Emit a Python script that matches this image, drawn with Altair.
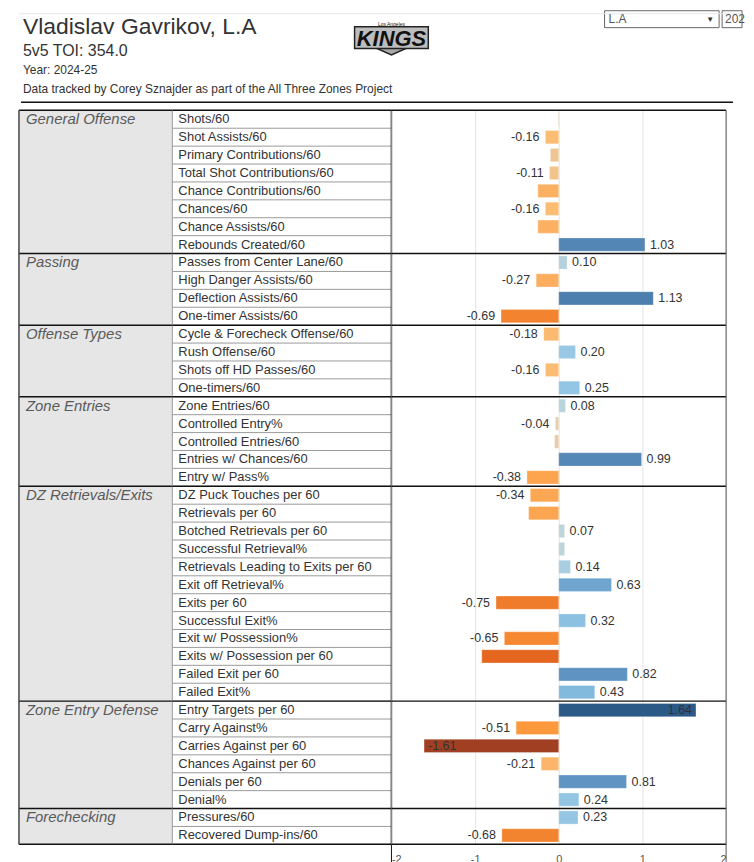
import altair as alt
import pandas as pd

# ---------------- data ----------------
groups = ["General Offense", "Passing", "Offense Types", "Zone Entries",
          "DZ Retrievals/Exits", "Zone Entry Defense", "Forechecking"]
group_sizes = [8, 4, 4, 5, 12, 6, 2]

metrics = [
    "Shots/60", "Shot Assists/60", "Primary Contributions/60", "Total Shot Contributions/60",
    "Chance Contributions/60", "Chances/60", "Chance Assists/60", "Rebounds Created/60",
    "Passes from Center Lane/60", "High Danger Assists/60", "Deflection Assists/60", "One-timer Assists/60",
    "Cycle & Forecheck Offense/60", "Rush Offense/60", "Shots off HD Passes/60", "One-timers/60",
    "Zone Entries/60", "Controlled Entry%", "Controlled Entries/60", "Entries w/ Chances/60", "Entry w/ Pass%",
    "DZ Puck Touches per 60", "Retrievals per 60", "Botched Retrievals per 60", "Successful Retrieval%",
    "Retrievals Leading to Exits per 60", "Exit off Retrieval%", "Exits per 60", "Successful Exit%",
    "Exit w/ Possession%", "Exits w/ Possession per 60", "Failed Exit per 60", "Failed Exit%",
    "Entry Targets per 60", "Carry Against%", "Carries Against per 60", "Chances Against per 60",
    "Denials per 60", "Denial%",
    "Pressures/60", "Recovered Dump-ins/60",
]
values = [
    -0.01, -0.16, -0.10, -0.11, -0.25, -0.16, -0.25, 1.03,
    0.10, -0.27, 1.13, -0.69,
    -0.18, 0.20, -0.16, 0.25,
    0.08, -0.04, -0.05, 0.99, -0.38,
    -0.34, -0.36, 0.07, 0.07, 0.14, 0.63, -0.75, 0.32, -0.65, -0.92, 0.82, 0.43,
    1.64, -0.51, -1.61, -0.21, 0.81, 0.24,
    0.23, -0.68,
]
label_shown = [
    False, True, False, True, False, True, False, True,
    True, True, True, True,
    True, True, True, True,
    True, True, False, True, True,
    True, False, True, False, True, True, True, True, True, False, True, True,
    True, True, True, True, True, True,
    True, True,
]
axis_ticks = [-2, -1, 0, 1, 2]

# ---------------- tables ----------------
group_of_row = [g for g, n in zip(groups, group_sizes) for _ in range(n)]
rows = pd.DataFrame({
    "idx": list(range(len(metrics))),
    "group": group_of_row,
    "metric": metrics,
    "value": values,
    "show": label_shown,
})
starts = [sum(group_sizes[:i]) for i in range(len(groups))]
grp = pd.DataFrame({"group": groups, "start": starts,
                    "end": [s + n for s, n in zip(starts, group_sizes)]})
bounds = pd.DataFrame({"b": starts + [sum(group_sizes)]})
row_lines = pd.DataFrame({"b": list(range(sum(group_sizes) + 1))})
one = pd.DataFrame({"k": [0]})

FONT = "Liberation Sans"
N = sum(group_sizes)
H = 737
W_GROUP, W_METRIC, W_BAR = 154, 220, 336
W_HEAD = 726

yscale = alt.Scale(domain=[0, N], reverse=True, nice=False, zero=False)
xscale = alt.Scale(domain=[-2, 2], nice=False)

color_scale = alt.Scale(
    domain=[-1.64, -0.92, -0.7, -0.5, -0.3, -0.16, 0, 0.08, 0.2, 0.4, 0.63, 0.82, 1.1, 1.64],
    range=["#9e3d22", "#e4661f", "#f2822d", "#fc9a3e", "#fcaa58", "#fbbd73", "#dcd3c5",
           "#b9d4dc", "#98c8e5", "#85bde0", "#6fa5cf", "#5f93c2", "#4f81b0", "#2b5a87"],
    interpolate="rgb",
)

# ---------------- header ----------------
def htext(txt, x, y, size, color="#333333", **kw):
    return alt.Chart(one).mark_text(text=txt, align="left", baseline="alphabetic",
                                    fontSize=size, color=color, font=FONT, **kw
                                    ).encode(x=alt.value(x), y=alt.value(y))

header = alt.layer(
    alt.Chart(one).mark_rect(fill="white", stroke="#666666", strokeWidth=1).encode(
        x=alt.value(588), x2=alt.value(703), y=alt.value(1), y2=alt.value(18)),
    alt.Chart(one).mark_rect(fill="white", stroke="#666666", strokeWidth=1).encode(
        x=alt.value(706), x2=alt.value(W_HEAD), y=alt.value(1), y2=alt.value(18)),
    alt.Chart(one).mark_rule(color="#e6e6e6", strokeWidth=1).encode(
        x=alt.value(0), x2=alt.value(W_HEAD), y=alt.value(4)),
    htext("L.A", 592, 13, 12, color="#555555"),
    htext("▼", 690, 12, 8, color="#333333"),
    htext("202", 709, 13, 12, color="#555555"),
    htext("Vladislav Gavrikov, L.A", 4, 24, 23),
    htext("5v5 TOI: 354.0", 4, 46, 16),
    htext("Year: 2024-25", 4, 65, 12),
    htext("Data tracked by Corey Sznajder as part of the All Three Zones Project", 4, 84, 12),
    alt.Chart(one).mark_rule(color="#111111", strokeWidth=1.5).encode(
        x=alt.value(2), x2=alt.value(717), y=alt.value(93)),
    # logo approximation (shield)
    alt.Chart(one).mark_point(shape="M-1,-0.5L1,-0.5L1,0.05L0,0.5L-1,0.05Z", filled=True,
                              size=1444, color="#a8a8a8", stroke="#222222", strokeWidth=1.5,
                              opacity=1).encode(x=alt.value(374), y=alt.value(36)),
    alt.Chart(one).mark_rect(fill="#bdbdbd", stroke="#222222", strokeWidth=1.5).encode(
        x=alt.value(337), x2=alt.value(411), y=alt.value(17), y2=alt.value(39)),
    alt.Chart(one).mark_text(text="Los Angeles", fontSize=5, color="#222222", font=FONT).encode(
        x=alt.value(374), y=alt.value(14)),
    alt.Chart(one).mark_text(text="KINGS", fontSize=22, fontWeight="bold", fontStyle="italic",
                             color="#111111", font=FONT).encode(
        x=alt.value(374), y=alt.value(29)),
).properties(width=W_HEAD, height=100)

# ---------------- group column ----------------
gcol = alt.layer(
    alt.Chart(grp).mark_rect(fill="#e6e6e6").encode(
        x=alt.value(0), x2=alt.value(W_GROUP),
        y=alt.Y("start:Q", scale=yscale, axis=None), y2="end:Q"),
    alt.Chart(grp).transform_calculate(yc="datum.start + 0.5").mark_text(
        align="left", baseline="middle", fontSize=15, fontStyle="italic",
        color="#5a5a5a", font=FONT).encode(
        x=alt.value(7), y=alt.Y("yc:Q", scale=yscale, axis=None), text="group:N"),
    alt.Chart(bounds).mark_rule(color="#111111", strokeWidth=1.5).encode(
        y=alt.Y("b:Q", scale=yscale, axis=None), x=alt.value(0), x2=alt.value(W_GROUP)),
    alt.Chart(one).mark_rule(color="#444444", strokeWidth=1.5).encode(
        x=alt.value(0), y=alt.value(0), y2=alt.value(H)),
    alt.Chart(one).mark_rule(color="#9a9a9a", strokeWidth=1).encode(
        x=alt.value(W_GROUP), y=alt.value(0), y2=alt.value(H)),
).properties(width=W_GROUP, height=H)

# ---------------- metric column ----------------
mcol = alt.layer(
    alt.Chart(row_lines).mark_rule(color="#9a9a9a", strokeWidth=1).encode(
        y=alt.Y("b:Q", scale=yscale, axis=None), x=alt.value(0), x2=alt.value(W_METRIC)),
    alt.Chart(rows).transform_calculate(yc="datum.idx + 0.5").mark_text(
        align="left", baseline="middle", fontSize=13, color="#333333", font=FONT).encode(
        x=alt.value(6), y=alt.Y("yc:Q", scale=yscale, axis=None), text="metric:N"),
    alt.Chart(bounds).mark_rule(color="#111111", strokeWidth=1.5).encode(
        y=alt.Y("b:Q", scale=yscale, axis=None), x=alt.value(0), x2=alt.value(W_METRIC)),
    alt.Chart(one).mark_rule(color="#111111", strokeWidth=1.5).encode(
        x=alt.value(W_METRIC), y=alt.value(0), y2=alt.value(H)),
).properties(width=W_METRIC, height=H)

# ---------------- bar column ----------------
base = alt.Chart(rows).transform_calculate(
    y0="datum.idx + 0.13", y1="datum.idx + 0.87", yc="datum.idx + 0.5",
    lbl="replace(format(datum.value, '.2f'), '\u2212', '-')")

xenc = alt.X("value:Q", scale=xscale, title=None,
             axis=alt.Axis(values=axis_ticks, grid=True, gridColor="#e4e4e4",
                           domain=False, ticks=False, labelPadding=9, labelFontSize=11,
                           labelColor="#555555", labelFont=FONT, format="d",
                           labelExpr="replace(datum.label, '\u2212', '-')"))

bars = base.mark_bar(stroke="#ffffff", strokeOpacity=0.35, strokeWidth=0.8).encode(
    x=xenc, x2=alt.datum(0),
    y=alt.Y("y0:Q", scale=yscale, axis=None), y2="y1:Q",
    color=alt.Color("value:Q", scale=color_scale, legend=None),
)

def lab(filt, align, dx):
    return base.transform_filter(filt).mark_text(
        align=align, baseline="middle", dx=dx, fontSize=12.5, color="#333333", font=FONT
    ).encode(x=alt.X("value:Q", scale=xscale), y=alt.Y("yc:Q", scale=yscale, axis=None),
             text="lbl:N")

bcol = alt.layer(
    bars,
    lab("datum.show && datum.value >= 0 && datum.value < 1.5", "left", 5),
    lab("datum.show && datum.value < 0 && datum.value > -1.5", "right", -6),
    lab("datum.show && datum.value >= 1.5", "right", -4),
    lab("datum.show && datum.value <= -1.5", "left", 4),
    alt.Chart(bounds).mark_rule(color="#111111", strokeWidth=1.5).encode(
        y=alt.Y("b:Q", scale=yscale, axis=None), x=alt.value(0), x2=alt.value(W_BAR)),
    alt.Chart(one).mark_rule(color="#555555", strokeWidth=1).encode(
        x=alt.value(W_BAR), y=alt.value(0), y2=alt.value(H + 20)),
    alt.Chart(one).mark_rule(color="#111111", strokeWidth=1).encode(
        x=alt.value(0), y=alt.value(H), y2=alt.value(H + 20)),
).properties(width=W_BAR, height=H)

body = alt.hconcat(gcol, mcol, bcol, spacing=0, bounds="flush")

chart = alt.vconcat(header, body, spacing=0).properties(
    padding={"left": 10, "top": 0, "right": 0, "bottom": 0}
).configure(font=FONT).configure_view(stroke=None)

chart.save("out.html", embed_options={"renderer": "svg", "actions": False})
